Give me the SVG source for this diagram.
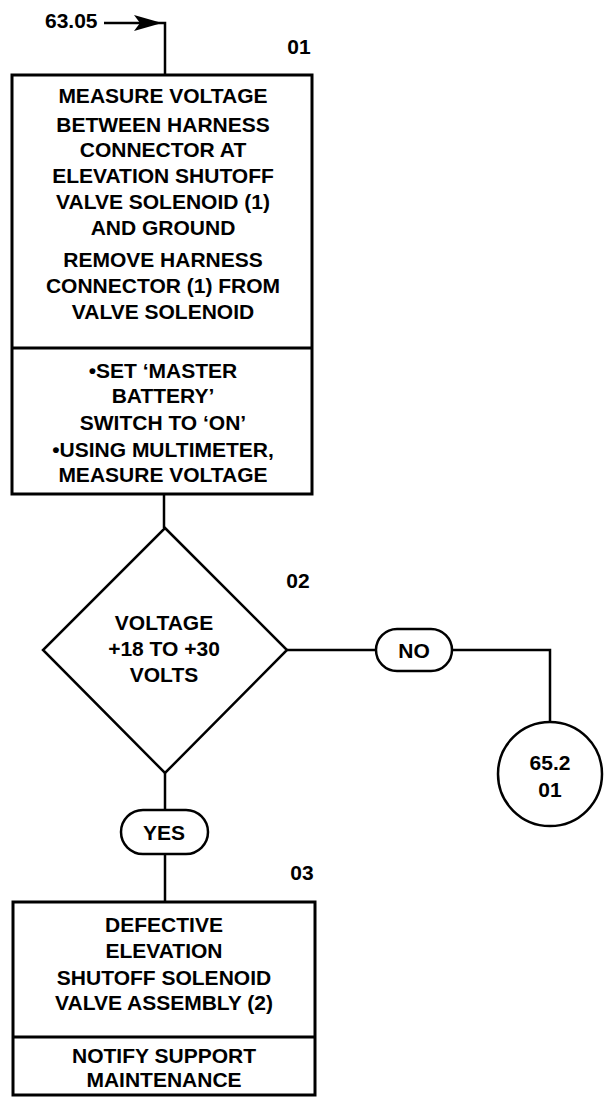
<svg xmlns="http://www.w3.org/2000/svg" width="605" height="1104" viewBox="0 0 605 1104">
<style>
text{font-family:"Liberation Sans",Arial,sans-serif;font-weight:bold;font-size:21px;fill:#000;text-anchor:middle}
.box{fill:#fff;stroke:#000;stroke-width:3}
.ln{fill:none;stroke:#000;stroke-width:2.5}
.ref{text-anchor:start}
</style>
<defs>
<marker id="ah" viewBox="0 0 30 16" refX="28" refY="8" markerWidth="30" markerHeight="16" markerUnits="userSpaceOnUse" orient="auto">
<path d="M0,0 L28,8 L0,16 L6,8 Z" fill="#000"/>
</marker>
</defs>
<rect width="605" height="1104" fill="#fff"/>
<g id="connectors">
<line class="ln" x1="104" y1="23" x2="162" y2="23" marker-end="url(#ah)"/>
<polyline class="ln" points="162,23 165,23 165,75"/>
<line class="ln" x1="164" y1="494" x2="164" y2="528"/>
<line class="ln" x1="287" y1="650" x2="376" y2="650"/>
<polyline class="ln" points="452,650 550,650 550,722"/>
<line class="ln" x1="165" y1="773" x2="165" y2="810"/>
<line class="ln" x1="165" y1="854" x2="165" y2="902"/>
</g>
<g id="start">
<text class="ref" x="45" y="28">63.05</text>
</g>
<g id="step01">
<text x="299" y="54">01</text>
<rect class="box" x="12" y="75" width="300" height="419"/>
<line class="ln" x1="12" y1="348" x2="312" y2="348" style="stroke-width:3"/>
<text x="163" y="103">MEASURE VOLTAGE</text>
<text x="163" y="132">BETWEEN HARNESS</text>
<text x="163" y="157">CONNECTOR AT</text>
<text x="163" y="183">ELEVATION SHUTOFF</text>
<text x="163" y="209">VALVE SOLENOID (1)</text>
<text x="163" y="235">AND GROUND</text>
<text x="163" y="267">REMOVE HARNESS</text>
<text x="163" y="293">CONNECTOR (1) FROM</text>
<text x="163" y="319">VALVE SOLENOID</text>
<text x="163" y="378">•SET ‘MASTER</text>
<text x="163" y="403">BATTERY’</text>
<text x="163" y="430">SWITCH TO ‘ON’</text>
<text x="163" y="457">•USING MULTIMETER,</text>
<text x="163" y="482">MEASURE VOLTAGE</text>
</g>
<g id="step02">
<text x="298" y="588">02</text>
<polygon class="ln" points="165,528 287,650 165,773 43,650" style="fill:#fff"/>
<text x="164" y="630">VOLTAGE</text>
<text x="164" y="656">+18 TO +30</text>
<text x="164" y="682">VOLTS</text>
</g>
<g id="no">
<rect class="box" x="376" y="629" width="76" height="42" rx="21" ry="21" style="stroke-width:2.5"/>
<text x="414" y="658">NO</text>
</g>
<g id="goto652">
<circle class="box" cx="550" cy="774" r="52" style="stroke-width:2.5"/>
<text x="550" y="770">65.2</text>
<text x="550" y="797">01</text>
</g>
<g id="yes">
<rect class="box" x="121" y="810" width="87" height="44" rx="22" ry="22" style="stroke-width:2.5"/>
<text x="164" y="840">YES</text>
</g>
<g id="step03">
<text x="302" y="880">03</text>
<rect class="box" x="13" y="902" width="302" height="193"/>
<line class="ln" x1="13" y1="1037" x2="315" y2="1037" style="stroke-width:3"/>
<text x="164" y="932">DEFECTIVE</text>
<text x="164" y="958">ELEVATION</text>
<text x="164" y="985">SHUTOFF SOLENOID</text>
<text x="164" y="1010">VALVE ASSEMBLY (2)</text>
<text x="164" y="1063">NOTIFY SUPPORT</text>
<text x="164" y="1087">MAINTENANCE</text>
</g>
</svg>
